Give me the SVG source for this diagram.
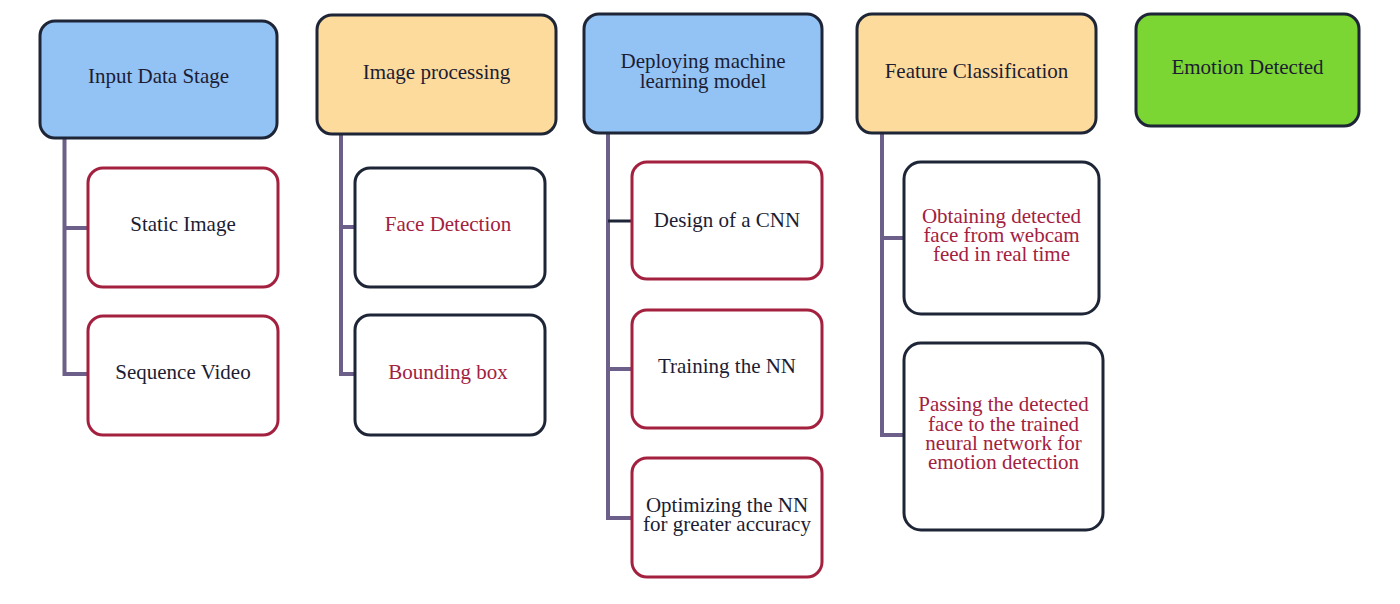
<svg xmlns="http://www.w3.org/2000/svg" width="1400" height="604" viewBox="0 0 1400 604">
<style>
.box{stroke-width:3}
.dk{stroke:#1d2536}
.rd{stroke:#a3213f}
.blue{fill:#93c3f5}
.org{fill:#fcdb9c}
.grn{fill:#7bd532}
.wht{fill:#ffffff}
text{font-family:"Liberation Serif","Times New Roman",serif;font-size:21px;text-anchor:middle}
.td{fill:#1c1d33}
.tr{fill:#a3213f}
.con{fill:none;stroke:#6c608a;stroke-width:4}
.con2{fill:none;stroke:#1d2536;stroke-width:3}
</style>
<rect width="1400" height="604" fill="#ffffff"/>
<g id="connectors">
<path class="con" d="M64.5,138 V374 H88 M64.5,228 H88"/>
<path class="con" d="M341,134 V374 H355 M341,227 H355"/>
<path class="con" d="M608,133 V518 H632 M608,369 H632"/>
<path class="con2" d="M608,221 H632"/>
<path class="con" d="M882,133 V435 H904 M882,238 H904"/>
</g>
<g id="input-data-stage">
<rect class="box dk blue" x="40" y="21" width="237" height="117" rx="15"/>
<text class="td" x="158.5" y="83">Input Data Stage</text>
</g>
<g id="static-image">
<rect class="box rd wht" x="88" y="168" width="190" height="119" rx="15"/>
<text class="td" x="183" y="231">Static Image</text>
</g>
<g id="sequence-video">
<rect class="box rd wht" x="88" y="316" width="190" height="119" rx="15"/>
<text class="td" x="183" y="379">Sequence Video</text>
</g>
<g id="image-processing">
<rect class="box dk org" x="317" y="15" width="239" height="119" rx="15"/>
<text class="td" x="436.5" y="79">Image processing</text>
</g>
<g id="face-detection">
<rect class="box dk wht" x="355" y="168" width="190" height="119" rx="15"/>
<text class="tr" x="448" y="231">Face Detection</text>
</g>
<g id="bounding-box">
<rect class="box dk wht" x="355" y="315" width="190" height="120" rx="15"/>
<text class="tr" x="448" y="379">Bounding box</text>
</g>
<g id="deploying-ml-model">
<rect class="box dk blue" x="584" y="14" width="238" height="119" rx="15"/>
<text class="td" x="703" y="68">Deploying machine<tspan x="703" dy="20">learning model</tspan></text>
</g>
<g id="design-cnn">
<rect class="box rd wht" x="632" y="162" width="190" height="117" rx="15"/>
<text class="td" x="727" y="227">Design of a CNN</text>
</g>
<g id="training-nn">
<rect class="box rd wht" x="632" y="310" width="190" height="118" rx="15"/>
<text class="td" x="727" y="373">Training the NN</text>
</g>
<g id="optimizing-nn">
<rect class="box rd wht" x="632" y="458" width="190" height="119" rx="15"/>
<text class="td" x="727" y="512">Optimizing the NN<tspan x="727" dy="19">for greater accuracy</tspan></text>
</g>
<g id="feature-classification">
<rect class="box dk org" x="857" y="14" width="239" height="119" rx="15"/>
<text class="td" x="976.5" y="78">Feature Classification</text>
</g>
<g id="obtaining-face">
<rect class="box dk wht" x="904" y="162" width="195" height="152" rx="17"/>
<text class="tr" x="1001.5" y="223">Obtaining detected<tspan x="1001.5" dy="19">face from webcam</tspan><tspan x="1001.5" dy="19">feed in real time</tspan></text>
</g>
<g id="passing-face">
<rect class="box dk wht" x="904" y="343" width="199" height="187" rx="17"/>
<text class="tr" x="1003.5" y="411">Passing the detected<tspan x="1003.5" dy="19.5">face to the trained</tspan><tspan x="1003.5" dy="19.5">neural network for</tspan><tspan x="1003.5" dy="19">emotion detection</tspan></text>
</g>
<g id="emotion-detected">
<rect class="box dk grn" x="1136" y="14" width="223" height="112" rx="15"/>
<text class="td" x="1247.5" y="74">Emotion Detected</text>
</g>
</svg>
